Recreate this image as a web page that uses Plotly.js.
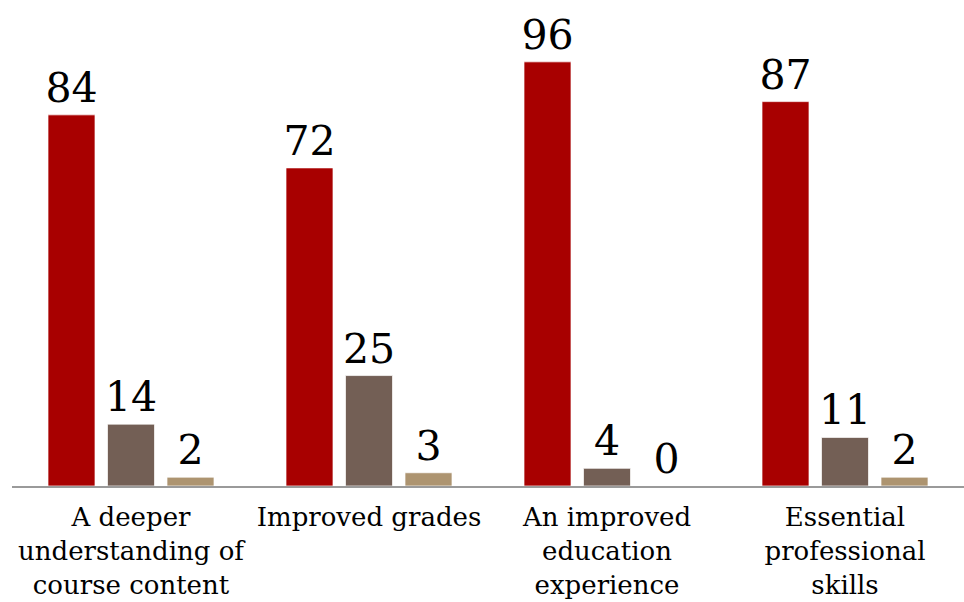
<!DOCTYPE html>
<html>
<head>
<meta charset="utf-8">
<script src="https://cdn.plot.ly/plotly-3.0.1.min.js"></script>
<style>html,body{margin:0;padding:0;background:#fff;}#chart{width:964px;height:602px;}</style>
</head>
<body>
<div id="chart"></div>
<script>
var categories = ["A deeper<br>understanding of<br>course content", "Improved grades", "An improved<br>education<br>experience", "Essential<br>professional<br>skills"];
var seriesA = [84, 72, 96, 87];
var seriesB = [14, 25, 4, 11];
var seriesC = [2, 3, 0, 2];
var seriesNames = ["Series 1", "Series 2", "Series 3"];
var colors = ["#A80000", "#735F55", "#AD9470"];

var FONT = "DejaVu Serif";
var allSeries = [seriesA, seriesB, seriesC];
var idx = [0, 1, 2, 3];
var traces = allSeries.map(function (vals, i) {
  return {
    type: "bar",
    name: seriesNames[i],
    x: idx,
    y: vals,
    marker: {color: colors[i], line: {color: "rgba(255,255,255,0.7)", width: 1}},
    text: vals.map(String),
    textposition: "outside",
    constraintext: "none",
    cliponaxis: false,
    textfont: {family: FONT, size: 41, color: "#000"}
  };
});

var layout = {
  width: 964, height: 602,
  margin: {l: 12, r: 0, t: 0, b: 116},
  paper_bgcolor: "#fff", plot_bgcolor: "#fff",
  showlegend: false,
  barmode: "group",
  bargap: 0.25,
  bargroupgap: 0.21,
  font: {family: FONT, color: "#000"},
  xaxis: {
    tickmode: "array", tickvals: idx, ticktext: categories,
    range: [-0.5, 3.5],
    showline: true, linecolor: "#9a9a9a", linewidth: 2,
    ticks: "", showgrid: false, zeroline: false,
    ticklabelstandoff: 7,
    tickfont: {family: FONT, size: 26, color: "#000"}
  },
  yaxis: {
    range: [0, 110], visible: false, showgrid: false, zeroline: false
  }
};

Plotly.newPlot("chart", traces, layout, {displayModeBar: false, staticPlot: true});
</script>
</body>
</html>
